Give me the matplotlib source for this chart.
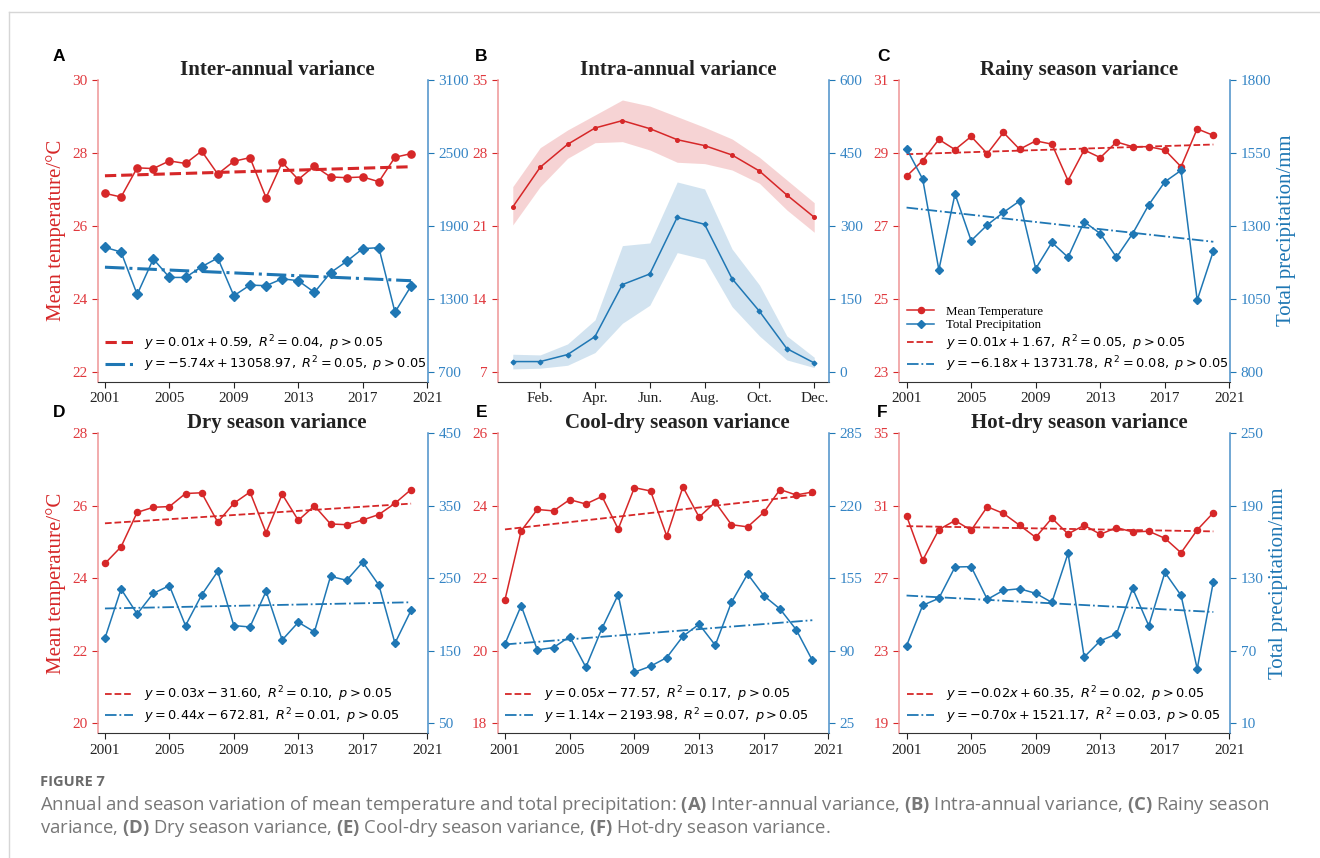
import numpy as np
import matplotlib
import matplotlib.pyplot as plt
from matplotlib.lines import Line2D

matplotlib.rcParams.update({'font.family': 'Liberation Serif',
                            'mathtext.rm': 'Open Sans',
                            'mathtext.bf': 'Open Sans:bold'})

RED = '#d62728'
BLUE = '#1f77b4'
RED_SPINE = '#ef9496'
BLUE_SPINE = '#4a8fc9'
W, H = 1320, 858

years = np.arange(2001, 2021)

inter_temp = [26.89, 26.79, 27.59, 27.57, 27.78, 27.71, 28.05, 27.42, 27.77, 27.87,
              26.77, 27.74, 27.27, 27.64, 27.34, 27.32, 27.34, 27.21, 27.88, 27.98]
inter_prec = [1723, 1684, 1335, 1627, 1475, 1475, 1563, 1635, 1324, 1412,
              1407, 1464, 1448, 1352, 1514, 1607, 1712, 1720, 1189, 1404]

rainy_temp = [28.36, 28.79, 29.37, 29.09, 29.45, 28.98, 29.56, 29.10, 29.33, 29.24,
              28.24, 29.08, 28.87, 29.30, 29.17, 29.17, 29.08, 28.62, 29.66, 29.48]
rainy_prec = [1565, 1460, 1149, 1409, 1249, 1303, 1346, 1385, 1153, 1243,
              1192, 1314, 1273, 1192, 1273, 1372, 1451, 1490, 1045, 1213]

dry_temp = [24.41, 24.87, 25.82, 25.96, 25.98, 26.34, 26.36, 25.55, 26.07, 26.38,
            25.26, 26.32, 25.60, 26.00, 25.50, 25.48, 25.61, 25.76, 26.07, 26.45]
dry_prec = [167.4, 235.3, 200.9, 229.4, 239.9, 184.9, 227.1, 259.6, 184.9, 183.0,
            232.1, 165.1, 189.5, 176.2, 252.8, 247.3, 272.5, 240.8, 160.6, 206.0]

cool_temp = [21.41, 23.31, 23.90, 23.86, 24.17, 24.05, 24.26, 23.36, 24.50, 24.41,
             23.17, 24.52, 23.69, 24.10, 23.48, 23.42, 23.82, 24.45, 24.30, 24.38]
cool_prec = [96.3, 130.5, 90.9, 93.0, 102.8, 75.4, 110.3, 140.4, 70.9, 76.3,
             84.0, 103.1, 113.9, 95.1, 133.5, 158.9, 139.5, 127.6, 109.1, 81.6]

hot_temp = [30.45, 28.00, 29.69, 30.19, 29.65, 30.95, 30.58, 29.93, 29.26, 30.32,
            29.45, 29.93, 29.43, 29.80, 29.56, 29.60, 29.21, 28.41, 29.67, 30.62]
hot_prec = [74.3, 107.7, 113.5, 139.4, 139.7, 112.6, 120.1, 121.4, 117.6, 110.1,
            150.7, 64.9, 78.4, 83.9, 121.7, 90.8, 134.9, 115.9, 55.2, 127.2]

months = np.arange(1, 13)
month_ticks = ['Feb.', 'Apr.', 'Jun.', 'Aug.', 'Oct.', 'Dec.']
month_temp = [22.81, 26.62, 28.82, 30.39, 31.10, 30.33, 29.27, 28.70, 27.80, 26.26, 23.96, 21.82]
month_temp_hi = [24.76, 28.50, 30.20, 31.64, 33.08, 32.50, 31.48, 30.46, 29.34, 27.58, 25.40, 23.22]
month_temp_lo = [21.08, 24.76, 27.48, 28.98, 29.08, 28.28, 27.10, 26.97, 26.36, 25.08, 22.52, 20.38]
month_prec = [20.6, 20.6, 35.0, 72.0, 179.0, 200.9, 317.5, 303.1, 191.3, 124.1, 47.3, 17.8]
month_prec_hi = [35.7, 34.3, 56.9, 106.3, 259.2, 264.7, 390.2, 375.8, 252.4, 178.3, 73.4, 29.5]
month_prec_lo = [5.5, 6.9, 13.0, 39.1, 99.4, 136.5, 244.8, 231.1, 133.7, 73.4, 24.0, 8.2]

# regression labels: (slope, intercept, R^2) for temperature and precipitation
fit_inter = [(0.01, 0.59, 0.04), (-5.74, 13058.97, 0.05)]
fit_rainy = [(0.01, 1.67, 0.05), (-6.18, 13731.78, 0.08)]
fit_dry = [(0.03, -31.60, 0.10), (0.44, -672.81, 0.01)]
fit_cool = [(0.05, -77.57, 0.17), (1.14, -2193.98, 0.07)]
fit_hot = [(-0.02, 60.35, 0.02), (-0.70, 1521.17, 0.03)]


def eq_label(fit):
    a, b, r2 = fit
    return r'$y={:.2f}x{:+.2f},\ R^2={:.2f},\ p>0.05$'.format(a, b, r2)


def rect(x0, y0, x1, y1):
    return [x0 / W, 1 - y1 / H, (x1 - x0) / W, (y1 - y0) / H]


fig = plt.figure(figsize=(13.2, 8.58), dpi=100)


def twin(r, tlim, tticks, plim, pticks, title):
    ax = fig.add_axes(r)
    ax2 = ax.twinx()
    pad = 0.034
    ax.set_ylim(tlim[0] - pad * (tlim[1] - tlim[0]), tlim[1])
    ax2.set_ylim(plim[0] - pad * (plim[1] - plim[0]), plim[1])
    ax.set_yticks(tticks)
    ax2.set_yticks(pticks)
    for s in ['top', 'right']:
        ax.spines[s].set_visible(False)
    for s in ['top', 'left', 'bottom']:
        ax2.spines[s].set_visible(False)
    ax.spines['left'].set_color(RED_SPINE)
    ax.spines['left'].set_linewidth(1.1)
    ax2.spines['right'].set_color(BLUE_SPINE)
    ax2.spines['right'].set_linewidth(1.1)
    ax.spines['bottom'].set_color('#333333')
    ax.tick_params(axis='y', colors=RED, labelsize=11, length=4, width=0.8)
    ax.tick_params(axis='y', labelcolor='#e0393e')
    ax2.tick_params(axis='y', colors=BLUE, labelsize=11, length=4, width=0.8)
    ax2.tick_params(axis='y', labelcolor='#3585c5')
    ax.tick_params(axis='x', colors='#222222', labelsize=11, length=4, width=0.8)
    ax.set_title(title, fontsize=15, fontweight='bold', color='#222222', x=0.543, pad=2.5)
    return ax, ax2


def year_panel(r, temp, prec, fits, tlim, tticks, plim, pticks, title,
               big=False, left_label=False, right_label=False, series=False):
    ax, ax2 = twin(r, tlim, tticks, plim, pticks, title)
    ms = 5.2 if big else 4.4
    tw = 2.2 if big else 1.3
    kr = np.polyfit(years, temp, 1)
    kb = np.polyfit(years, prec, 1)
    l1, = ax.plot(years, temp, color=RED, marker='o', ms=ms, lw=1.1)
    l2, = ax.plot(years, np.polyval(kr, years), color=RED, ls='--', lw=tw)
    l3, = ax2.plot(years, prec, color=BLUE, marker='D', ms=ms - 0.6, lw=1.1)
    l4, = ax2.plot(years, np.polyval(kb, years), color=BLUE, ls='-.', lw=tw)
    ax.set_xlim(2000.55, 2021.05)
    ax.set_xticks([2001, 2005, 2009, 2013, 2017, 2021])
    handles = [l2, l4]
    labels = [eq_label(fits[0]), eq_label(fits[1])]
    if series:
        handles = [l1, l3] + handles
        labels = ['Mean Temperature', 'Total Precipitation'] + labels
    leg = ax2.legend(handles, labels, loc='lower left', frameon=False,
                     prop={'size': 9.3}, handlelength=2.1, labelspacing=0.12,
                     handletextpad=0.9, borderaxespad=0.2)
    for t in leg.get_texts():
        t.set_math_fontfamily('dejavusans')
    if left_label:
        ax.set_ylabel('Mean temperature/°C', color=RED, fontsize=15, labelpad=4)
    if right_label:
        ax2.set_ylabel('Total precipitation/mm', color=BLUE, fontsize=15, labelpad=4)
    return ax, ax2


year_panel(rect(97.7, 80, 428, 381.5), inter_temp, inter_prec, fit_inter,
           (22, 30), [22, 24, 26, 28, 30], (700, 3100), [700, 1300, 1900, 2500, 3100],
           'Inter-annual variance', big=True, left_label=True)
year_panel(rect(899.3, 80, 1230.3, 381.5), rainy_temp, rainy_prec, fit_rainy,
           (23, 31), [23, 25, 27, 29, 31], (800, 1800), [800, 1050, 1300, 1550, 1800],
           'Rainy season variance', right_label=True, series=True)
year_panel(rect(97.7, 433.3, 428, 733.3), dry_temp, dry_prec, fit_dry,
           (20, 28), [20, 22, 24, 26, 28], (50, 450), [50, 150, 250, 350, 450],
           'Dry season variance', left_label=True)
year_panel(rect(497.7, 433.3, 829.3, 733.3), cool_temp, cool_prec, fit_cool,
           (18, 26), [18, 20, 22, 24, 26], (25, 285), [25, 90, 155, 220, 285],
           'Cool-dry season variance')
year_panel(rect(899.3, 433.3, 1230.3, 733.3), hot_temp, hot_prec, fit_hot,
           (19, 35), [19, 23, 27, 31, 35], (10, 250), [10, 70, 130, 190, 250],
           'Hot-dry season variance', right_label=True)

# monthly climatology with spread bands
axb, axb2 = twin(rect(497.7, 80, 829.3, 381.5), (7, 35), [7, 14, 21, 28, 35],
                 (0, 600), [0, 150, 300, 450, 600], 'Intra-annual variance')
axb.fill_between(months, month_temp_lo, month_temp_hi, color=RED, alpha=0.2, lw=0)
axb.plot(months, month_temp, color=RED, marker='o', ms=2.6, lw=1.1)
axb2.fill_between(months, month_prec_lo, month_prec_hi, color=BLUE, alpha=0.2, lw=0)
axb2.plot(months, month_prec, color=BLUE, marker='D', ms=2.4, lw=1.1)
axb.set_xlim(0.45, 12.55)
axb.set_xticks([2, 4, 6, 8, 10, 12])
axb.set_xticklabels(month_ticks)

# panel letters
for letter, x, y in [('A', 53, 61), ('B', 475, 61), ('C', 877, 61),
                     ('D', 53, 417), ('E', 476, 417), ('F', 877, 417)]:
    fig.text(x / W, 1 - y / H, letter, fontsize=12.5, fontweight='bold',
             family='Liberation Sans', va='baseline')

# frame lines
fig.add_artist(Line2D([9 / W, 1], [1 - 12 / H, 1 - 12 / H], color='#d6d6d6', lw=1))
fig.add_artist(Line2D([9 / W, 9 / W], [0, 1 - 12 / H], color='#d6d6d6', lw=1))

# caption
cap = dict(family='Open Sans', color='#777777', fontsize=13.3, va='baseline',
           math_fontfamily='custom')
fig.text(40 / W, 1 - 786 / H, 'FIGURE 7', family='Open Sans', color='#6a6a6a',
         fontsize=10.5, fontweight='bold', va='baseline')
fig.text(40 / W, 1 - 810 / H,
         r'Annual and season variation of mean temperature and total precipitation: '
         r'$\mathbf{(A)}$ Inter-annual variance, $\mathbf{(B)}$ Intra-annual variance, '
         r'$\mathbf{(C)}$ Rainy season', **cap)
fig.text(40 / W, 1 - 833 / H,
         r'variance, $\mathbf{(D)}$ Dry season variance, $\mathbf{(E)}$ Cool-dry season '
         r'variance, $\mathbf{(F)}$ Hot-dry season variance.', **cap)

fig.savefig('out.png', dpi=100)
